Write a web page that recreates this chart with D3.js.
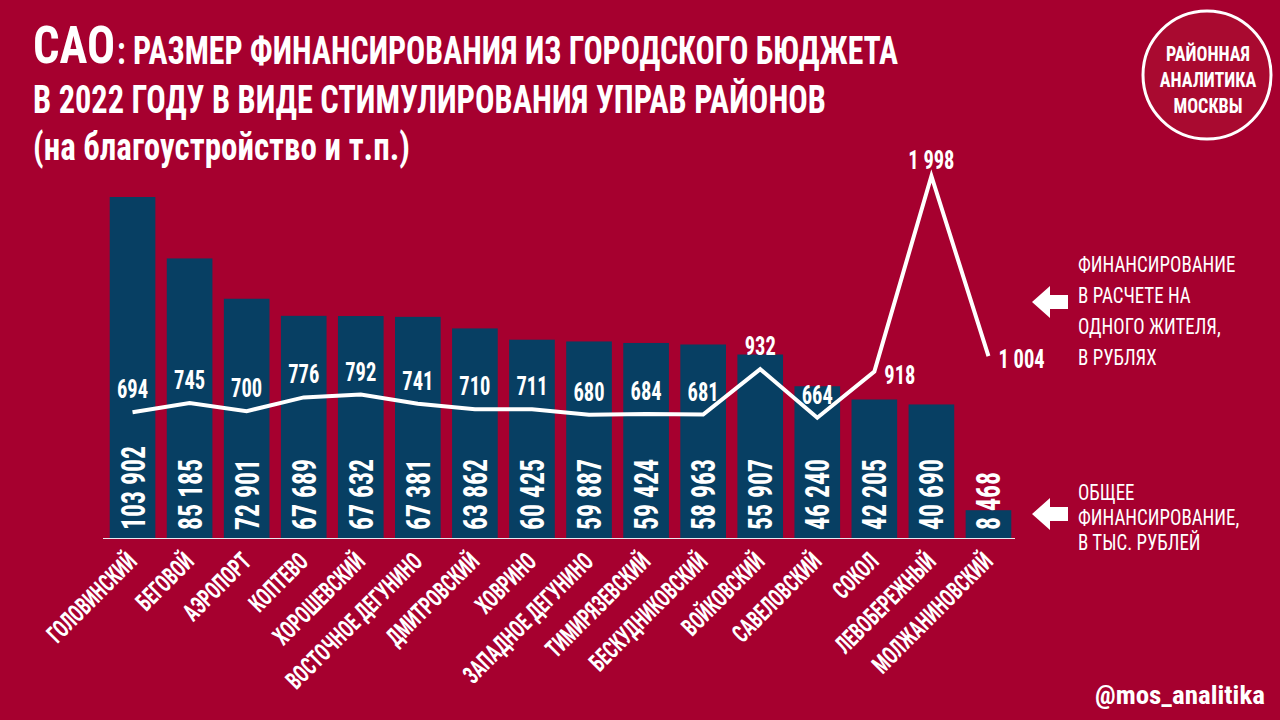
<!DOCTYPE html>
<html>
<head>
<meta charset="utf-8">
<script src="https://cdn.jsdelivr.net/npm/d3@7"></script>
<style>
  body { margin: 0; background: #a6002f; }
  text { font-family: "Liberation Sans Narrow", "Roboto Condensed", Roboto, "DejaVu Sans Condensed", sans-serif; fill: #fff; }
</style>
</head>
<body>
<div class="module"></div>
<script>
// данные
const districts = ["ГОЛОВИНСКИЙ", "БЕГОВОЙ", "АЭРОПОРТ", "КОПТЕВО", "ХОРОШЕВСКИЙ", "ВОСТОЧНОЕ ДЕГУНИНО",
  "ДМИТРОВСКИЙ", "ХОВРИНО", "ЗАПАДНОЕ ДЕГУНИНО", "ТИМИРЯЗЕВСКИЙ", "БЕСКУДНИКОВСКИЙ", "ВОЙКОВСКИЙ",
  "САВЕЛОВСКИЙ", "СОКОЛ", "ЛЕВОБЕРЕЖНЫЙ", "МОЛЖАНИНОВСКИЙ"];
const totals = [103902, 85185, 72901, 67689, 67632, 67381, 63862, 60425, 59887, 59424, 58963, 55907, 46240, 42205, 40690, 8468];
const perResident = [694, 745, 700, 776, 792, 741, 710, 711, 680, 684, 681, 932, 664, 918, 1998, 1004];

const titleLines = ["РАЗМЕР ФИНАНСИРОВАНИЯ ИЗ ГОРОДСКОГО БЮДЖЕТА", "В 2022 ГОДУ В ВИДЕ СТИМУЛИРОВАНИЯ УПРАВ РАЙОНОВ", "(на благоустройство и т.п.)"];
const legendLine = ["ФИНАНСИРОВАНИЕ", "В РАСЧЕТЕ НА", "ОДНОГО ЖИТЕЛЯ,", "В РУБЛЯХ"];
const legendBar = ["ОБЩЕЕ", "ФИНАНСИРОВАНИЕ,", "В ТЫС. РУБЛЕЙ"];
const logoLines = ["РАЙОННАЯ", "АНАЛИТИКА", "МОСКВЫ"];

drawChart(d3.select('.module').node());

function squeeze(sel, k) {
  sel.each(function() {
    const w = this.getComputedTextLength();
    d3.select(this).attr('textLength', w * k).attr('lengthAdjust', 'spacingAndGlyphs');
  });
}

function fitTo(sel, w) {
  sel.attr('textLength', w).attr('lengthAdjust', 'spacingAndGlyphs');
}

function drawChart(rootDOM) {
  const W = 1280;
  const H = 720;
  const base = 538;

  const fmt = d3.formatLocale({decimal: ",", thousands: " ", grouping: [3], currency: ["", ""]}).format(",");

  const svg = d3.select(rootDOM).append('svg')
    .attr('width', W)
    .attr('height', H);

  svg.append('rect').attr('width', W).attr('height', H).attr('fill', '#a6002f');

  const x = d3.scaleBand()
    .domain(districts)
    .range([104, 1017])
    .paddingInner(0.2)
    .paddingOuter(0.1);

  const yBar = d3.scaleLinear().domain([0, 103902]).range([base, 197]);
  const yLine = d3.scaleLinear().domain([0, 1998]).range([base, 176]);

  // title
  const t1 = svg.append('text').attr('x', 33).attr('y', 63)
    .style('font-size', '52px').style('font-weight', 'bold').text('САО');
  fitTo(t1, 82);
  const t2 = svg.append('text').attr('x', 117).attr('y', 64)
    .style('font-size', '38px').style('font-weight', 'bold').text(': ' + titleLines[0]);
  fitTo(t2, 781);
  const t3 = svg.append('text').attr('x', 33).attr('y', 113)
    .style('font-size', '38px').style('font-weight', 'bold').text(titleLines[1]);
  fitTo(t3, 793);
  const t4 = svg.append('text').attr('x', 33).attr('y', 160)
    .style('font-size', '38px').style('font-weight', 'bold').text(titleLines[2]);
  fitTo(t4, 377);

  // bars
  const bars = svg.append('g');
  bars.selectAll('rect')
    .data(districts)
    .join('rect')
    .attr('x', d => x(d))
    .attr('width', x.bandwidth())
    .attr('y', (d, i) => yBar(totals[i]))
    .attr('height', (d, i) => base - yBar(totals[i]))
    .attr('fill', '#073f63');

  const barLabels = bars.selectAll('text')
    .data(districts)
    .join('text')
    .attr('transform', d => `translate(${x(d) + x.bandwidth() / 2 + 12}, ${base - 8}) rotate(-90)`)
    .style('font-size', '33px')
    .style('font-weight', 'bold')
    .text((d, i) => fmt(totals[i]));
  squeeze(barLabels, 0.78);

  // baseline
  svg.append('line')
    .attr('x1', 103).attr('x2', 1015)
    .attr('y1', base + 0.5).attr('y2', base + 0.5)
    .attr('stroke', '#e8e8f0').attr('stroke-width', 1.2);

  // line per resident
  const line = d3.line()
    .x((d, i) => x(districts[i]) + x.bandwidth() / 2)
    .y(d => yLine(d));

  svg.append('path')
    .datum(perResident)
    .attr('d', line)
    .attr('fill', 'none')
    .attr('stroke', '#fff')
    .attr('stroke-width', 4)
    .attr('stroke-linejoin', 'miter');

  const sideLabel = new Set([13, 15]);
  const lineLabels = svg.append('g').selectAll('text')
    .data(perResident)
    .join('text')
    .attr('x', (d, i) => x(districts[i]) + x.bandwidth() / 2 + (sideLabel.has(i) ? 10 : 0))
    .attr('y', (d, i) => yLine(d) + (sideLabel.has(i) ? 12 : (i === 14 ? -7 : -14)))
    .attr('text-anchor', (d, i) => sideLabel.has(i) ? 'start' : 'middle')
    .style('font-size', '25px')
    .style('font-weight', 'bold')
    .text(d => fmt(d));
  squeeze(lineLabels, 0.82);

  // district names
  const names = svg.append('g').selectAll('text')
    .data(districts)
    .join('text')
    .attr('transform', d => `translate(${x(d) + x.bandwidth() / 2 + 6}, ${base + 25}) rotate(-45)`)
    .attr('text-anchor', 'end')
    .style('font-size', '25px')
    .style('font-weight', 'bold')
    .text(d => d);
  squeeze(names, 0.72);

  // legend
  const arrow = (cy) => {
    svg.append('path')
      .attr('d', `M1032,${cy} L1050,${cy - 16} L1050,${cy - 7} L1068,${cy - 7} L1068,${cy + 7} L1050,${cy + 7} L1050,${cy + 16} Z`)
      .attr('fill', '#fff');
  };
  arrow(302);
  arrow(514);

  const lg1 = svg.append('g').selectAll('text')
    .data(legendLine)
    .join('text')
    .attr('x', 1078)
    .attr('y', (d, i) => 272 + i * 31)
    .style('font-size', '22px')
    .text(d => d);
  squeeze(lg1, 0.86);

  const lg2 = svg.append('g').selectAll('text')
    .data(legendBar)
    .join('text')
    .attr('x', 1078)
    .attr('y', (d, i) => 500 + i * 25)
    .style('font-size', '22px')
    .text(d => d);
  squeeze(lg2, 0.86);

  // logo
  svg.append('circle')
    .attr('cx', 1207).attr('cy', 75).attr('r', 64)
    .attr('fill', '#a90a30')
    .attr('stroke', '#fff').attr('stroke-width', 3);
  const logo = svg.append('g').selectAll('text')
    .data(logoLines)
    .join('text')
    .attr('x', 1208)
    .attr('y', (d, i) => 61 + i * 26)
    .attr('text-anchor', 'middle')
    .style('font-size', '21px')
    .style('font-weight', 'bold')
    .text(d => d);
  squeeze(logo, 0.86);

  const handle = svg.append('text')
    .attr('x', 1095).attr('y', 704)
    .style('font-size', '26px')
    .style('font-weight', 'bold')
    .text('@mos_analitika');
  fitTo(handle, 170);
}
</script>
</body>
</html>
